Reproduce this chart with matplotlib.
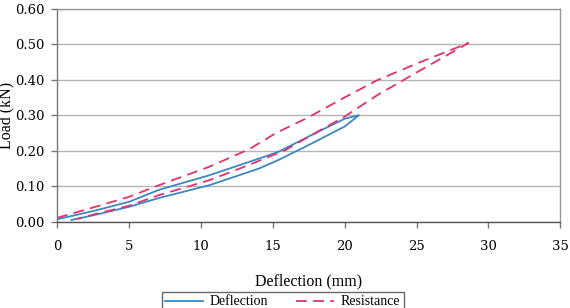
import matplotlib
matplotlib.use("Agg")
import matplotlib.pyplot as plt

# Deflection series (loop: loading then unloading)
defl_x = [0, 2.5, 5, 7.1, 10.6, 14.06, 15.4, 17.5, 20, 21,
          20, 17.5, 15.4, 14.06, 10.6, 7.1, 5, 2.5, 1.0]
defl_y = [0.007, 0.03, 0.056, 0.09, 0.131, 0.178, 0.197, 0.24, 0.29, 0.30,
          0.268, 0.216, 0.174, 0.15, 0.103, 0.067, 0.042, 0.018, 0.005]

# Resistance series
res_x = [0, 2.5, 5, 7.1, 10.6, 13.35, 15.2, 16.5, 17.3, 20, 22.3, 25.3, 28.6,
         25.3, 22.3, 20, 17.7, 15.9, 13.35, 10.6, 7.1, 5, 2.5, 1.4]
res_y = [0.011, 0.04, 0.07, 0.103, 0.155, 0.204, 0.249, 0.275, 0.29, 0.35, 0.399, 0.45, 0.503,
         0.427, 0.357, 0.296, 0.244, 0.202, 0.16, 0.117, 0.075, 0.045, 0.02, 0.008]

xticks = [0, 5, 10, 15, 20, 25, 30, 35]
yticks = [0.0, 0.1, 0.2, 0.3, 0.4, 0.5, 0.6]

plt.rcParams['font.family'] = ['Liberation Serif', 'DejaVu Serif']

fig = plt.figure(figsize=(5.7, 3.08), dpi=100)
ax = fig.add_axes([0.1, 0.28, 0.883, 0.692])

ax.plot(defl_x, defl_y, color='#3c87c6', lw=1.3, label='Deflection')
ax.plot(res_x, res_y, color='#e0336e', lw=1.3, ls=(0, (6, 3.5)), label='Resistance')

ax.set_xlim(0, 35)
ax.set_ylim(0, 0.6)
ax.set_xticks(xticks)
ax.set_yticks(yticks)
ax.set_xticklabels([str(t) for t in xticks], family='DejaVu Serif', fontsize=9.5)
ax.set_yticklabels(['%.2f' % t for t in yticks], family='DejaVu Serif', fontsize=9.5)
ax.tick_params(axis='both', color='#777777', length=4, width=1)
ax.tick_params(axis='x', pad=9)
ax.tick_params(axis='y', pad=5)
ax.grid(axis='y', color='#b5b5b5', lw=1)
ax.set_axisbelow(True)
for s in ax.spines.values():
    s.set_color('#999999')
    s.set_linewidth(1)
ax.spines['bottom'].set_color('#555555')
ax.spines['left'].set_color('#777777')

ax.set_xlabel('Deflection (mm)', fontsize=11.5)
ax.xaxis.set_label_coords(0.5, -0.24)
ax.set_ylabel('Load (kN)', fontsize=11.5)
ax.yaxis.set_label_coords(-0.084, 0.5)

leg = fig.legend(loc='upper left', bbox_to_anchor=(162/570, 1 - 292/308), ncol=2,
                 frameon=True, fancybox=False, edgecolor='#444444', fontsize=10,
                 handlelength=2.7, columnspacing=2.0, borderpad=0.25, handletextpad=0.5,
                 borderaxespad=0)
leg.get_frame().set_linewidth(1)

fig.savefig('out.png', dpi=100)
